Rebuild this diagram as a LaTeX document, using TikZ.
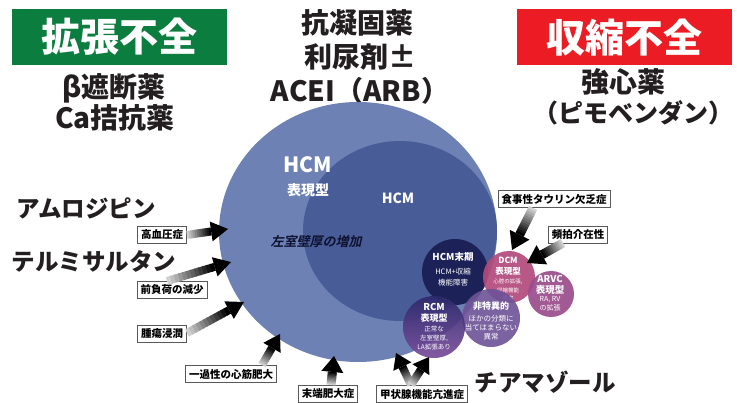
\documentclass[tikz,border=0pt]{standalone}
\usepackage{fontspec}
\setmainfont{Noto Sans CJK JP}
\newfontfamily\jpsl{Noto Sans CJK JP}[UprightFont=* Bold, FakeSlant=0.22]
\usetikzlibrary{calc}
\newcommand{\fsz}[1]{\fontsize{#1}{#1}\selectfont}
\definecolor{gbg}{HTML}{0B7D3E}
\definecolor{rbg}{HTML}{EC1C24}
\definecolor{ink}{HTML}{231F20}
\definecolor{outerc}{HTML}{6E81B5}
\definecolor{innerc}{HTML}{485C97}
\definecolor{endc}{HTML}{1C2257}
\definecolor{dcmc}{HTML}{B34A7C}
\definecolor{arvcc}{HTML}{9B4C8D}
\definecolor{nsc}{HTML}{6D5297}
\definecolor{rcmtop}{HTML}{2D2A6C}
\definecolor{rcmbot}{HTML}{7A4C9B}
\definecolor{navytxt}{HTML}{0E1230}
% gradient arrow: #1 from, #2 to, #3 shaft width, #4 head half width, #5 head length
\newcommand{\garrow}[5]{%
  \coordinate (hb) at ($(#2)!#5pt!(#1)$);
  \foreach \i in {0,...,11}{%
    \pgfmathsetmacro{\ta}{\i/12}%
    \pgfmathsetmacro{\tb}{min((\i+1.3)/12,1)}%
    \pgfmathsetmacro{\pc}{18+82*\i/11}%
    \draw[line width=#3pt, draw=black!\pc] ($(#1)!\ta!(hb)$) -- ($(#1)!\tb!(hb)$);
  }
  \fill[black] (#2) -- ($(hb)!#4pt!90:(#2)$) -- ($(hb)!#4pt!-90:(#2)$) -- cycle;
}
\tikzset{
  headbox/.style={text=white, font=\bfseries\fsz{39}, minimum width=215pt, minimum height=56pt, inner sep=0pt},
  drug/.style={text=ink, font=\bfseries\fsz{28}, inner sep=0pt},
  kata/.style={text=ink, font=\bfseries\fsz{23.5}, inner sep=0pt},
  lbl/.style={draw=black!65, line width=0.8pt, fill=white, text=black, font=\bfseries\fsz{10.5}, inner xsep=3.5pt, inner ysep=0pt, minimum height=17pt},
  wt/.style={text=white, inner sep=0pt},
  sc/.style={circle, inner sep=0pt}
}
\begin{document}
\begin{tikzpicture}[x=1pt,y=-1pt]
\useasboundingbox (0,0) rectangle (737,403);
\fill[white] (0,0) rectangle (737,403);

% headers
\node[headbox, fill=gbg] (green) at (119.5,37) {拡張不全};
\node[headbox, fill=rbg] (red) at (624.5,37.5) {収縮不全};
\node[drug] (beta) at (114,88) {β遮断薬};
\node[drug] (ca) at (115,118) {Ca拮抗薬};
\node[drug] (anti) at (357,23) {抗凝固薬};
\node[drug] (diu) at (360,57) {利尿剤±};
\node[drug] (acei) at (360,91) {ACEI（ARB）};
\node[drug] (ino) at (623,82) {強心薬};
\node[drug, font=\bfseries\fsz{25}] (pimo) at (633,113) {（ピモベンダン）};
\node[kata] (amlo) at (86,208) {アムロジピン};
\node[kata] (telmi) at (94,261) {テルミサルタン};
\node[kata] (thia) at (545,382) {チアマゾール};

% circles
\fill[outerc] (358,232) ellipse [x radius=139, y radius=130];
\fill[innerc] (400,231) ellipse [x radius=97, y radius=90];
\node[wt, font=\bfseries\fsz{21}] (thcm) at (308,165) {HCM};
\node[wt, font=\bfseries\fsz{14}] (thyo) at (308,190) {表現型};
\node[wt, font=\bfseries\fsz{14}] (ihcm) at (398,198) {HCM};
\node[text=navytxt, inner sep=0pt, font=\jpsl\fsz{13}] (lvw) at (316,242) {左室壁厚の増加};

\node[sc, fill=endc, minimum size=66pt] (cend) at (455,272) {};
\node[wt, font=\bfseries\fsz{9.5}] (e1) at (453,257) {HCM末期};
\node[wt, font=\fsz{7.5}] (e2) at (453,272) {HCM+収縮};
\node[wt, font=\fsz{7.5}] (e3) at (453,283) {機能障害};

\node[sc, fill=dcmc, fill opacity=0.92, minimum size=52pt] (cdcm) at (509,277) {};
\node[wt, font=\bfseries\fsz{8.5}] (d1) at (508,260) {DCM};
\node[wt, font=\bfseries\fsz{8.5}] (d2) at (508,271) {表現型};
\node[wt, font=\fsz{5.5}] (d3) at (508,282) {心腔の拡張,};
\node[wt, font=\fsz{5.5}] (d4) at (508,290) {収縮機能};
\node[wt, font=\fsz{5.5}] (d5) at (508,298) {障害};

\node[sc, fill=arvcc, fill opacity=0.92, minimum size=46pt] (carvc) at (551,294) {};
\node[wt, font=\bfseries\fsz{9.5}] (a1) at (550,279) {ARVC};
\node[wt, font=\bfseries\fsz{9.5}] (a2) at (550,289.5) {表現型};
\node[wt, font=\fsz{7}] (a3) at (550,299.5) {RA, RV};
\node[wt, font=\fsz{7}] (a4) at (550,308) {の拡張};

\node[sc, fill=nsc, fill opacity=0.9, minimum size=58pt] (cns) at (491,318) {};
\node[wt, font=\bfseries\fsz{9}] (n1) at (491,306) {非特異的};
\node[wt, font=\fsz{7.5}] (n2) at (491,319) {ほかの分類に};
\node[wt, font=\fsz{7.5}] (n3) at (491,328) {当てはまらない};
\node[wt, font=\fsz{7.5}] (n4) at (491,337) {異常};

\node[sc, top color=rcmtop, bottom color=rcmbot, fill opacity=0.92, minimum size=62pt] (crcm) at (434,327) {};
\node[wt, font=\bfseries\fsz{9.5}] (r1) at (434,307) {RCM};
\node[wt, font=\bfseries\fsz{9}] (r2) at (434,318) {表現型};
\node[wt, font=\fsz{6.5}] (r3) at (434,329) {正常な};
\node[wt, font=\fsz{6.5}] (r4) at (434,338) {左室壁厚,};
\node[wt, font=\fsz{6.5}] (r5) at (434,347) {LA拡張あり};

% label boxes
\node[lbl] (b1) at (162,235) {高血圧症};
\node[lbl] (b2) at (172,290) {前負荷の減少};
\node[lbl] (b3) at (162,334) {腫瘍浸潤};
\node[lbl] (b4) at (231,374) {一過性の心筋肥大};
\node[lbl] (b5) at (328,394) {末端肥大症};
\node[lbl] (b6) at (422,394) {甲状腺機能亢進症};
\node[lbl] (b7) at (554,199) {食事性タウリン欠乏症};
\node[lbl] (b8) at (578,235) {頻拍介在性};

% arrow ends
\coordinate (t1) at (228,229);
\coordinate (s2) at (167,281);
\coordinate (t2) at (231,262);
\coordinate (s3) at (187,333);
\coordinate (t3) at (244,302);
\coordinate (s4) at (262,365);
\coordinate (t4) at (280,334);
\coordinate (s5) at (331,385);
\coordinate (t5) at (334,356);
\coordinate (s6) at (411,385);
\coordinate (t6a) at (396,353);
\coordinate (t6b) at (429,357);
\coordinate (s7) at (533,208);
\coordinate (t7) at (512,250);
\coordinate (s8) at (563,243);
\coordinate (t8) at (527,263);

\garrow{b1.east}{t1}{8}{10}{17}
\garrow{s2}{t2}{8}{10}{17}
\garrow{s3}{t3}{8}{10}{17}
\garrow{s4}{t4}{8}{10}{16}
\garrow{s5}{t5}{9}{11}{16}
\garrow{s6}{t6a}{8}{10}{15}
\garrow{s6}{t6b}{8}{10}{15}
\garrow{s7}{t7}{9}{11}{17}
\garrow{s8}{t8}{9}{11}{17}
\end{tikzpicture}
\end{document}
